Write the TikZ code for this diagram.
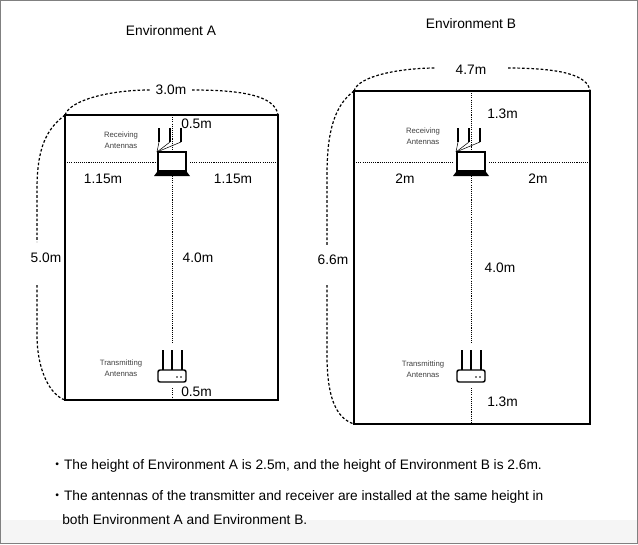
\documentclass[tikz,border=0pt]{standalone}
\usepackage{fontspec}
\setmainfont{Liberation Sans}
\newfontfamily\cjkfont{Noto Sans CJK JP}
\begin{document}
\begin{tikzpicture}[x=0.75pt,y=-0.75pt,
  lbl/.style={font=\fontsize{10.3}{12}\selectfont,inner sep=0},
  small/.style={font=\fontsize{5.8}{8.5}\selectfont,text=black!75,align=center,inner sep=0},
  dimA/.style={line width=0.9pt,dash pattern=on 2pt off 1.5pt},
  dot/.style={line width=0.6pt,dash pattern=on 0.8pt off 0.8pt},
  room/.style={draw,line width=0.8pt},
  pics/laptop/.style={code={
    \draw[line width=0.9pt] (-14,-14) rectangle (14,5);
    \fill (-15,6) -- (15,6) -- (18,10) -- (-18,10) -- cycle;
    \foreach \x in {-13,-2,9}{\draw[line width=2.2pt] (\x,-38) -- (\x,-24);}
    \foreach \x in {-13,-2,9}{\draw[line width=0.4pt] (\x,-24) -- (-15,-14);}
  }},
  pics/router/.style={code={
    \draw[line width=1.1pt,rounded corners=1.5pt] (-14,-6) rectangle (14,6);
    \fill (5,1) circle (0.9) (9,1) circle (0.9);
    \foreach \x in {-9,0,10}{\draw[line width=2.2pt] (\x,-26) -- (\x,-6);}
  }}]
\useasboundingbox (0,0) rectangle (638,544);
\fill[black!4] (1,520) rectangle (637,543);
\draw[black!50,line width=0.6pt] (0.5,0.5) rectangle (637.5,543.5);

% Environment A
\node[lbl] (tA) at (171,31) {Environment A};
\draw[room] (65,115) rectangle (278,400);
\coordinate (A1) at (65,115); \coordinate (A2) at (278,115); \coordinate (A3) at (65,400);
\node[lbl] (wA) at (171,90) {3.0m};
\draw[dimA] (A1) .. controls (70,100) and (110,90) .. (150,90);
\draw[dimA] (192,90) .. controls (240,90) and (275,95) .. (A2);
\node[lbl] (hA) at (46,258) {5.0m};
\draw[dimA] (A1) .. controls (45,130) and (37,150) .. (37,190) -- (37,242);
\draw[dimA] (37,285) -- (37,335) .. controls (37,370) and (50,395) .. (A3);
\draw[dot] (65,162) -- (155,162) (190,162) -- (278,162);
\draw[dot] (172,115) -- (172,150) (172,176) -- (172,344) (172,388) -- (172,400);
\pic at (172,166) {laptop};
\pic at (172,376) {router};
\node[lbl,anchor=west] (a05) at (181,124) {0.5m};
\node[lbl] (a115l) at (103,179) {1.15m};
\node[lbl] (a115r) at (233,179) {1.15m};
\node[lbl] (a40) at (198,258) {4.0m};
\node[lbl,anchor=west] (a05b) at (181,392) {0.5m};
\node[small] (rA) at (121,140) {Receiving\\Antennas};
\node[small] (xA) at (121,368) {Transmitting\\Antennas};

% Environment B
\node[lbl] (tB) at (471,24) {Environment B};
\draw[room] (354,91) rectangle (590,424);
\coordinate (B1) at (354,91); \coordinate (B2) at (590,91); \coordinate (B3) at (354,424);
\node[lbl] (wB) at (471,70) {4.7m};
\draw[dimA] (B1) .. controls (358,76) and (400,68) .. (436,68);
\draw[dimA] (508,68) .. controls (560,68) and (588,75) .. (B2);
\node[lbl] (hB) at (333,260) {6.6m};
\draw[dimA] (B1) .. controls (335,105) and (327,130) .. (327,175) -- (327,245);
\draw[dimA] (327,285) -- (327,355) .. controls (327,395) and (335,418) .. (B3);
\draw[dot] (354,162) -- (454,162) (489,162) -- (590,162);
\draw[dot] (471,91) -- (471,150) (471,176) -- (471,344) (471,388) -- (471,424);
\pic at (471,166) {laptop};
\pic at (471,376) {router};
\node[lbl,anchor=west] (b13) at (487,114) {1.3m};
\node[lbl] (b2l) at (405,179) {2m};
\node[lbl] (b2r) at (538,179) {2m};
\node[lbl] (b40) at (500,268) {4.0m};
\node[lbl,anchor=west] (b13b) at (487,402) {1.3m};
\node[small] (rB) at (423,136) {Receiving\\Antennas};
\node[small] (xB) at (423,369) {Transmitting\\Antennas};

% notes
\node[lbl,anchor=west] (n1) at (50,466) {{\cjkfont ・}The height of Environment A is 2.5m, and the height of Environment B is 2.6m.};
\node[lbl,anchor=west] (n2) at (50,497) {{\cjkfont ・}The antennas of the transmitter and receiver are installed at the same height in};
\node[lbl,anchor=west] (n3) at (62,520) {both Environment A and Environment B.};
\end{tikzpicture}
\end{document}
